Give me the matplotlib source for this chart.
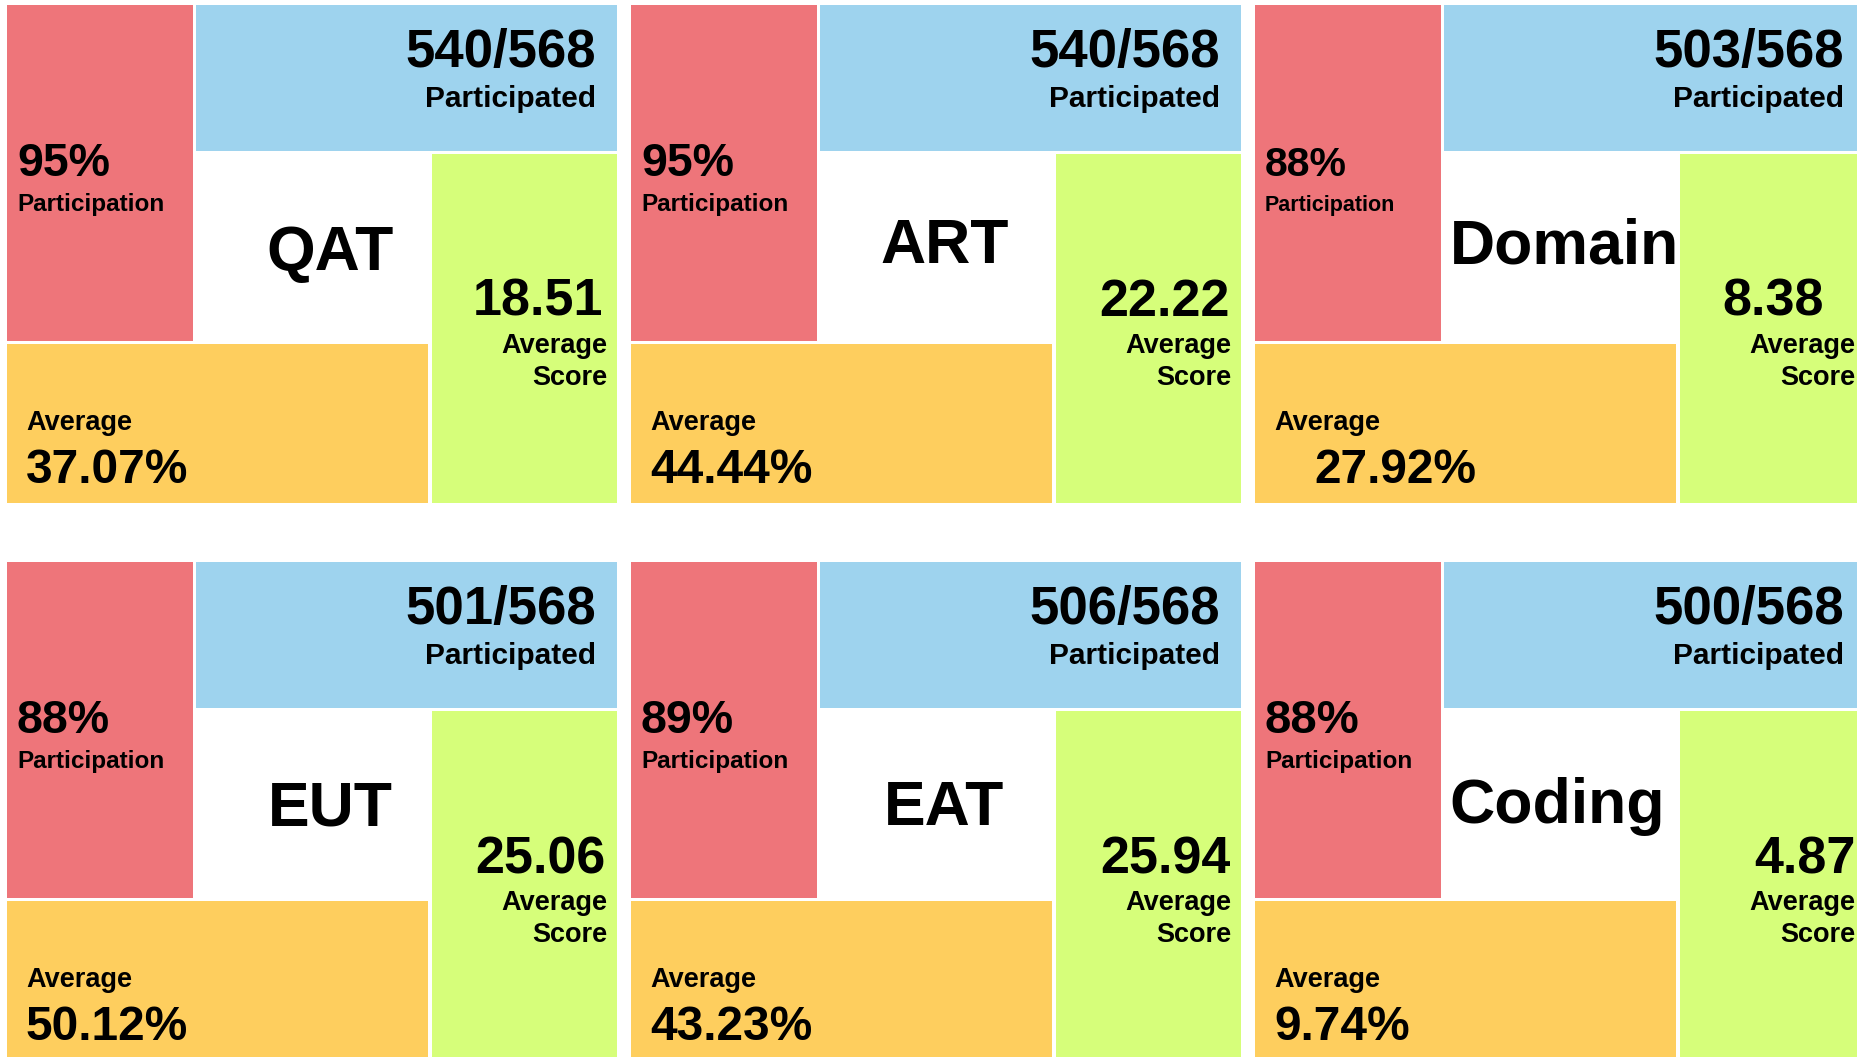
import matplotlib
matplotlib.use("Agg")
import matplotlib.pyplot as plt
from matplotlib.patches import Rectangle

plt.rcParams['font.family'] = ['Liberation Sans', 'DejaVu Sans']
plt.rcParams['font.weight'] = 'bold'

# data
names = ['QAT', 'ART', 'Domain', 'EUT', 'EAT', 'Coding']
participated = [540, 540, 503, 501, 506, 500]
total = 568
participation_pct = [95, 95, 88, 88, 89, 88]
average_pct = [37.07, 44.44, 27.92, 50.12, 43.23, 9.74]
average_score = [18.51, 22.22, 8.38, 25.06, 25.94, 4.87]

# layout (pixels)
col_x = [7, 631, 1255]
row_y = [5, 562]
name_cx = [323, 314, 310, 323, 313, 302]
name_base = [265, 258, 258, 264, 263, 261]
score_right = [596, 599, 569, 599, 600, 601]
avg_left = [19, 19, 59, 19, 19, 19]
pct_size = [33.5, 33.5, 29.5, 33.5, 33.5, 34]
part_size = [17.5, 17.5, 15.5, 17.5, 17.5, 17.5]

RED = '#ee757a'
BLUE = '#9ed3ee'
GREEN = '#d6fe7a'
YELLOW = '#fece5e'

fig = plt.figure(figsize=(18.58, 10.57), dpi=100, facecolor='white')
ax = fig.add_axes([0, 0, 1, 1])
ax.set_xlim(0, 1858)
ax.set_ylim(1057, 0)
ax.axis('off')

for i, nm in enumerate(names):
    x0 = col_x[i % 3]
    y0 = row_y[i // 3]
    # the four blocks around the centre
    ax.add_patch(Rectangle((x0, y0), 186, 336, color=RED, lw=0))
    ax.add_patch(Rectangle((x0 + 189.5, y0), 421, 146, color=BLUE, lw=0))
    ax.add_patch(Rectangle((x0 + 425.5, y0 + 149), 185, 349, color=GREEN, lw=0))
    ax.add_patch(Rectangle((x0, y0 + 339), 421, 159, color=YELLOW, lw=0))

    # blue: participated count
    ax.text(x0 + 589, y0 + 62, f'{participated[i]}/{total}', fontsize=38,
            ha='right', va='baseline', fontweight='bold')
    ax.text(x0 + 589, y0 + 102, 'Participated', fontsize=21.5,
            ha='right', va='baseline', fontweight='bold')

    # red: participation
    ax.text(x0 + 10, y0 + 171, f'{participation_pct[i]}%', fontsize=pct_size[i],
            ha='left', va='baseline', fontweight='bold')
    ax.text(x0 + 10, y0 + 206, 'Participation', fontsize=part_size[i],
            ha='left', va='baseline', fontweight='bold')

    # centre name
    ax.text(x0 + name_cx[i], y0 + name_base[i], nm, fontsize=45,
            ha='center', va='baseline', fontweight='bold')

    # green: average score
    ax.text(x0 + score_right[i], y0 + 311, f'{average_score[i]:.2f}', fontsize=37.5,
            ha='right', va='baseline', fontweight='bold')
    ax.text(x0 + 600, y0 + 348, 'Average', fontsize=19.5,
            ha='right', va='baseline', fontweight='bold')
    ax.text(x0 + 600, y0 + 380, 'Score', fontsize=19.5,
            ha='right', va='baseline', fontweight='bold')

    # yellow: average percentage
    ax.text(x0 + 19, y0 + 425, 'Average', fontsize=19.5,
            ha='left', va='baseline', fontweight='bold')
    ax.text(x0 + avg_left[i], y0 + 478, f'{average_pct[i]:.2f}%', fontsize=34.5,
            ha='left', va='baseline', fontweight='bold')

fig.savefig('out.png', dpi=100, facecolor='white')
